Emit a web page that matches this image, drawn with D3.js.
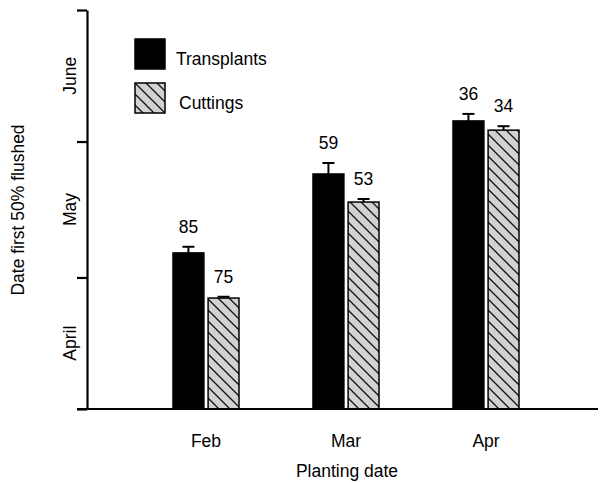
<!DOCTYPE html>
<html>
<head>
<meta charset="utf-8">
<script src="https://cdn.jsdelivr.net/npm/d3@7"></script>
<style>
  body { margin: 0; background: #fff; }
  svg { font-family: Arial, "Liberation Sans", Helvetica, sans-serif; }
</style>
</head>
<body>
<div id="chart"></div>
<script>
// planting dates on the x axis
const plantingDates = ["Feb", "Mar", "Apr"];
const seriesNames = ["Transplants", "Cuttings"];

// date first 50% flushed, in days after 1 April
const transplantDays = [35.6, 53.6, 65.7];
const cuttingDays = [25.3, 47.2, 63.6];
// error bar (upper half), in days
const transplantErr = [1.4, 2.5, 1.6];
const cuttingErr = [0.3, 0.7, 0.9];
// numbers printed above the bars
const transplantCounts = [85, 59, 36];
const cuttingCounts = [75, 53, 34];

// month boundaries on the y axis (days after 1 April) and month labels
const monthTicks = [0, 30, 61, 91];
const monthLabels = ["April", "May", "June"];

const width = 600, height = 483;
const fontSize = "17.5px";

const svg = d3.select("#chart").append("svg")
    .attr("width", width)
    .attr("height", height);

const defs = svg.append("defs");
const hatch = defs.append("pattern")
    .attr("id", "hatch")
    .attr("patternUnits", "userSpaceOnUse")
    .attr("width", 11)
    .attr("height", 11);
hatch.append("rect")
    .attr("width", 11)
    .attr("height", 11)
    .attr("fill", "#d2d2d2");
hatch.append("path")
    .attr("d", "M-1,-1L12,12M-1,10L1,12M10,-1L12,1")
    .attr("stroke", "#111")
    .attr("stroke-width", 1.3);

const x = d3.scalePoint()
    .domain(plantingDates)
    .range([206, 486]);

const sub = d3.scaleBand()
    .domain(seriesNames)
    .range([-33, 33])
    .paddingInner(0.12);

const y = d3.scaleLinear()
    .domain([0, 91])
    .range([409, 10]);

const rows = plantingDates.map((d, i) => ({
    date: d,
    values: [
        { key: "Transplants", v: transplantDays[i], e: transplantErr[i], n: transplantCounts[i] },
        { key: "Cuttings", v: cuttingDays[i], e: cuttingErr[i], n: cuttingCounts[i] }
    ]
}));

const groups = svg.append("g")
    .selectAll("g")
    .data(rows)
    .join("g")
    .attr("transform", d => `translate(${x(d.date)},0)`);

const bars = groups.selectAll("g")
    .data(d => d.values)
    .join("g");

// error bars drawn first so the bar covers the lower part
bars.append("line")
    .attr("x1", d => sub(d.key) + sub.bandwidth() / 2)
    .attr("x2", d => sub(d.key) + sub.bandwidth() / 2)
    .attr("y1", d => y(d.v))
    .attr("y2", d => y(d.v + d.e))
    .attr("stroke", "#000")
    .attr("stroke-width", 2);
bars.append("line")
    .attr("x1", d => sub(d.key) + sub.bandwidth() / 2 - 6)
    .attr("x2", d => sub(d.key) + sub.bandwidth() / 2 + 6)
    .attr("y1", d => y(d.v + d.e))
    .attr("y2", d => y(d.v + d.e))
    .attr("stroke", "#000")
    .attr("stroke-width", 2);

bars.append("rect")
    .attr("x", d => sub(d.key))
    .attr("y", d => y(d.v))
    .attr("width", sub.bandwidth())
    .attr("height", d => y(0) - y(d.v))
    .attr("fill", d => d.key === "Transplants" ? "#000" : "url(#hatch)")
    .attr("stroke", "#000")
    .attr("stroke-width", 1.5);

bars.append("text")
    .attr("x", d => sub(d.key) + sub.bandwidth() / 2)
    .attr("y", d => y(d.v + d.e) - 14)
    .attr("text-anchor", "middle")
    .attr("font-size", fontSize)
    .text(d => d.n);

// y axis
const yAxis = svg.append("g")
    .attr("transform", "translate(87,0)")
    .call(d3.axisLeft(y).tickValues(monthTicks).tickFormat("").tickSize(10).tickSizeOuter(0));
yAxis.selectAll("path, line").attr("stroke", "#000").attr("stroke-width", 2.2);

yAxis.selectAll(".month")
    .data(monthLabels)
    .join("text")
    .attr("class", "month")
    .attr("transform", (d, i) => `translate(-11,${(y(monthTicks[i]) + y(monthTicks[i + 1])) / 2}) rotate(-90)`)
    .attr("text-anchor", "middle")
    .attr("fill", "#000")
    .attr("font-size", fontSize)
    .text(d => d);

// x axis line
svg.append("line")
    .attr("x1", 77)
    .attr("x2", 598)
    .attr("y1", y(0))
    .attr("y2", y(0))
    .attr("stroke", "#000")
    .attr("stroke-width", 2.2);

svg.selectAll(".xlab")
    .data(plantingDates)
    .join("text")
    .attr("class", "xlab")
    .attr("x", d => x(d))
    .attr("y", 447)
    .attr("text-anchor", "middle")
    .attr("font-size", fontSize)
    .text(d => d);

svg.append("text")
    .attr("x", 347)
    .attr("y", 477)
    .attr("text-anchor", "middle")
    .attr("font-size", fontSize)
    .text("Planting date");

svg.append("text")
    .attr("transform", "translate(24,210) rotate(-90)")
    .attr("text-anchor", "middle")
    .attr("font-size", fontSize)
    .text("Date first 50% flushed");

// legend
const legend = svg.append("g")
    .selectAll("g")
    .data(seriesNames)
    .join("g")
    .attr("transform", (d, i) => `translate(135,${39 + i * 44})`);

legend.append("rect")
    .attr("width", 30)
    .attr("height", 30)
    .attr("fill", d => d === "Transplants" ? "#000" : "url(#hatch)")
    .attr("stroke", "#000")
    .attr("stroke-width", 1.5);

legend.append("text")
    .attr("x", (d, i) => i === 0 ? 41 : 44)
    .attr("y", 26)
    .attr("font-size", fontSize)
    .text(d => d);
</script>
</body>
</html>
